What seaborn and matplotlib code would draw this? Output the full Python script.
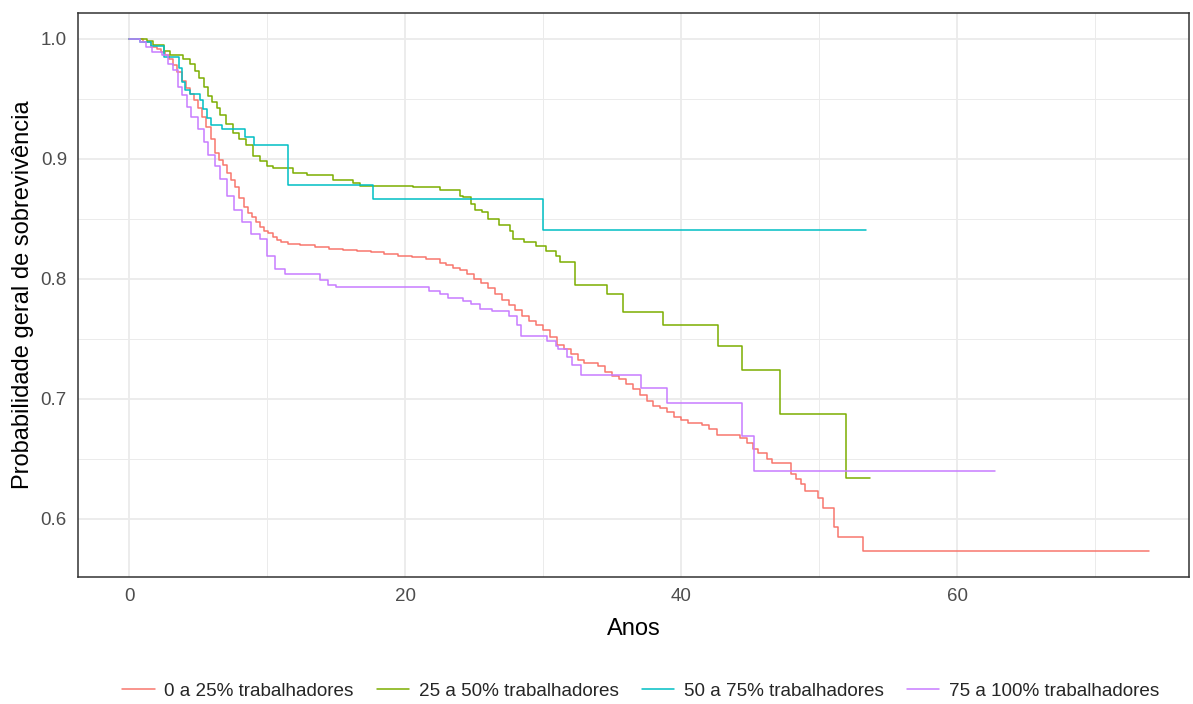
import numpy as np
import pandas as pd
import matplotlib
matplotlib.use("Agg")
import matplotlib.pyplot as plt
import seaborn as sns
from matplotlib.lines import Line2D

# ---------------- data ----------------
groups = ["0 a 25% trabalhadores", "25 a 50% trabalhadores",
          "50 a 75% trabalhadores", "75 a 100% trabalhadores"]
colors = ["#F8766D", "#7CAE00", "#00BFC4", "#C77CFF"]

t_g1 = [0, 1.0, 1.6, 2.0, 2.3, 2.6, 2.9, 3.2, 3.5, 3.8, 4.1, 4.4, 4.7, 5.0,
        5.3, 5.6, 5.9, 6.2, 6.5, 6.8, 7.1, 7.4, 7.7, 8.0, 8.3, 8.6, 8.9, 9.2,
        9.5, 9.8, 10.1, 10.4, 10.7, 11.0, 11.5, 12.4, 13.5,
        14.5, 15.5, 16.5, 17.5, 18.5, 19.5, 20.5, 21.5, 22.5, 23.0, 23.5, 24.0,
        24.5, 25.0, 25.5, 26.0, 26.5, 27.0, 27.5, 28.0, 28.5, 29.0, 29.5, 30.0,
        30.5, 31.0, 31.5, 32.0, 32.5, 33.0, 34.0, 34.5, 35.0, 35.5, 36.0, 36.5,
        37.0, 37.5, 38.0, 38.5, 39.0, 39.5, 40.0, 40.5, 41.5, 42.0, 42.6, 44.3,
        44.8, 45.2, 45.6, 46.2, 46.6, 48.0, 48.3, 48.7, 49.0, 49.9, 50.3, 51.1,
        51.4, 53.2, 73.9]
s_g1 = [1.0, 0.997, 0.993, 0.991, 0.989, 0.986, 0.983, 0.978, 0.972, 0.965,
        0.959, 0.9535, 0.949, 0.942, 0.935, 0.926, 0.916, 0.905, 0.899, 0.895,
        0.888, 0.882, 0.876, 0.867, 0.860, 0.855, 0.851, 0.847, 0.843, 0.840,
        0.838, 0.835, 0.832, 0.8305, 0.829, 0.828, 0.826, 0.8245, 0.824,
        0.823, 0.822, 0.8205, 0.819, 0.818, 0.816, 0.813, 0.811, 0.809, 0.807,
        0.804, 0.800, 0.796, 0.792, 0.787, 0.782, 0.778, 0.774, 0.769, 0.765,
        0.761, 0.757, 0.751, 0.745, 0.741, 0.737, 0.732, 0.730, 0.727, 0.722,
        0.719, 0.716, 0.712, 0.708, 0.703, 0.698, 0.694, 0.692, 0.689, 0.685,
        0.682, 0.680, 0.678, 0.675, 0.670, 0.667, 0.663, 0.658, 0.655, 0.650,
        0.646, 0.6375, 0.633, 0.629, 0.623, 0.6175, 0.609, 0.593, 0.585,
        0.5727, 0.5727]

t_g2 = [0, 1.28, 1.76, 2.5, 2.97, 3.9, 4.4, 4.8, 5.1, 5.4, 5.7, 6.0, 6.4, 6.6,
        7.0, 7.5, 8.0, 8.5, 9.0, 9.5, 10.0, 10.4, 11.9, 12.9, 14.8, 16.2, 16.7,
        20.6, 22.5, 24.0, 24.2, 24.8, 25.1, 25.6, 26.0, 26.8, 27.6, 27.8, 28.6,
        29.5, 30.2, 30.9, 31.2, 32.3, 34.6, 35.8, 38.7, 42.7, 44.4, 47.2, 51.96,
        53.7]
s_g2 = [1.0, 0.998, 0.995, 0.990, 0.986, 0.983, 0.979, 0.973, 0.967, 0.960,
        0.9525, 0.947, 0.942, 0.936, 0.929, 0.921, 0.916, 0.911, 0.902, 0.898,
        0.894, 0.892, 0.888, 0.886, 0.8825, 0.880, 0.8775, 0.876, 0.8736,
        0.869, 0.8677, 0.8625, 0.857, 0.8555, 0.850, 0.8444, 0.840, 0.8333,
        0.8305, 0.827, 0.823, 0.819, 0.814, 0.795, 0.7875, 0.772, 0.761,
        0.744, 0.7236, 0.6875, 0.634, 0.634]

t_g3 = [0, 0.8, 1.6, 2.5, 3.6, 3.8, 4.06, 4.4, 5.15, 5.33, 5.67, 5.9, 6.7,
        8.4, 9.06, 11.55, 17.7, 30.0, 53.4]
s_g3 = [1.0, 0.997, 0.994, 0.985, 0.9755, 0.964, 0.957, 0.9536, 0.9486,
        0.9417, 0.934, 0.928, 0.9244, 0.9178, 0.9117, 0.8778, 0.866, 0.8408,
        0.8408]

t_g4 = [0, 0.8, 1.2, 1.64, 2.4, 2.85, 3.2, 3.55, 3.8, 4.2, 4.5, 5.0, 5.4, 5.75,
        6.2, 6.6, 7.1, 7.6, 8.2, 8.8, 9.5, 10.0, 10.6, 11.3, 13.8, 14.4, 15.0,
        21.7, 22.5, 23.1, 24.2, 24.8, 25.4, 26.3, 27.5, 28.1, 28.4, 30.3, 30.9,
        31.1, 31.7, 32.1, 32.75, 37.1, 39.0, 44.4, 45.3, 62.75]
s_g4 = [1.0, 0.997, 0.993, 0.989, 0.986, 0.979, 0.9736, 0.960, 0.953, 0.943,
        0.935, 0.925, 0.914, 0.903, 0.894, 0.883, 0.869, 0.857, 0.847, 0.8375,
        0.833, 0.819, 0.808, 0.804, 0.7986, 0.7944, 0.793, 0.7894, 0.7875,
        0.784, 0.781, 0.779, 0.775, 0.773, 0.7686, 0.761, 0.752, 0.7478,
        0.744, 0.741, 0.735, 0.728, 0.720, 0.709, 0.6964, 0.669, 0.6397,
        0.6397]

x_ticks = [0, 20, 40, 60]
y_ticks = [0.6, 0.7, 0.8, 0.9, 1.0]
y_tick_labels = ["0.6", "0.7", "0.8", "0.9", "1.0"]

frames = []
for g, t, s in zip(groups, [t_g1, t_g2, t_g3, t_g4], [s_g1, s_g2, s_g3, s_g4]):
    frames.append(pd.DataFrame({"Anos": t, "surv": s, "grupo": g}))
df = pd.concat(frames, ignore_index=True)

# ---------------- figure ----------------
sns.set_theme(style="white")
plt.rcParams["font.family"] = ["Liberation Sans", "DejaVu Sans"]

fig = plt.figure(figsize=(11.93, 7.04), dpi=100)
ax = fig.add_axes([0.0654, 0.1804, 0.9966 - 0.0654, 0.9815 - 0.1804])

sns.lineplot(data=df, x="Anos", y="surv", hue="grupo", hue_order=groups,
             palette=colors, drawstyle="steps-post", estimator=None,
             linewidth=1.1, legend=False, ax=ax)

ax.set_xlim(-3.7, 76.8)
ax.set_ylim(0.5514, 1.0213)
ax.set_xticks(x_ticks)
ax.set_xticks([10, 30, 50, 70], minor=True)
ax.set_yticks(y_ticks)
ax.set_yticklabels(y_tick_labels)
ax.set_yticks([0.65, 0.75, 0.85, 0.95], minor=True)

ax.set_axisbelow(True)
ax.grid(True, which="major", color="#EBEBEB", linewidth=1.3)
ax.grid(True, which="minor", color="#EBEBEB", linewidth=0.7)
for sp in ax.spines.values():
    sp.set_color("#333333")
    sp.set_linewidth(1.1)

ax.tick_params(axis="both", which="major", length=4, width=1.0,
               color="#333333", labelcolor="#4D4D4D", labelsize=13.5, pad=4)
ax.tick_params(axis="both", which="minor", length=0)

ax.set_xlabel("Anos", fontsize=17, color="black", labelpad=9)
ax.set_ylabel("Probabilidade geral de sobrevivência", fontsize=17,
              color="black", labelpad=5)

handles = [Line2D([0], [0], color=c, lw=1.1) for c in colors]
fig.legend(handles, groups, loc="center", bbox_to_anchor=(0.537, 0.018),
           ncol=4, frameon=False, fontsize=13.6, handlelength=1.7,
           handletextpad=0.5, columnspacing=1.25)

fig.savefig("out.png", dpi=100)
